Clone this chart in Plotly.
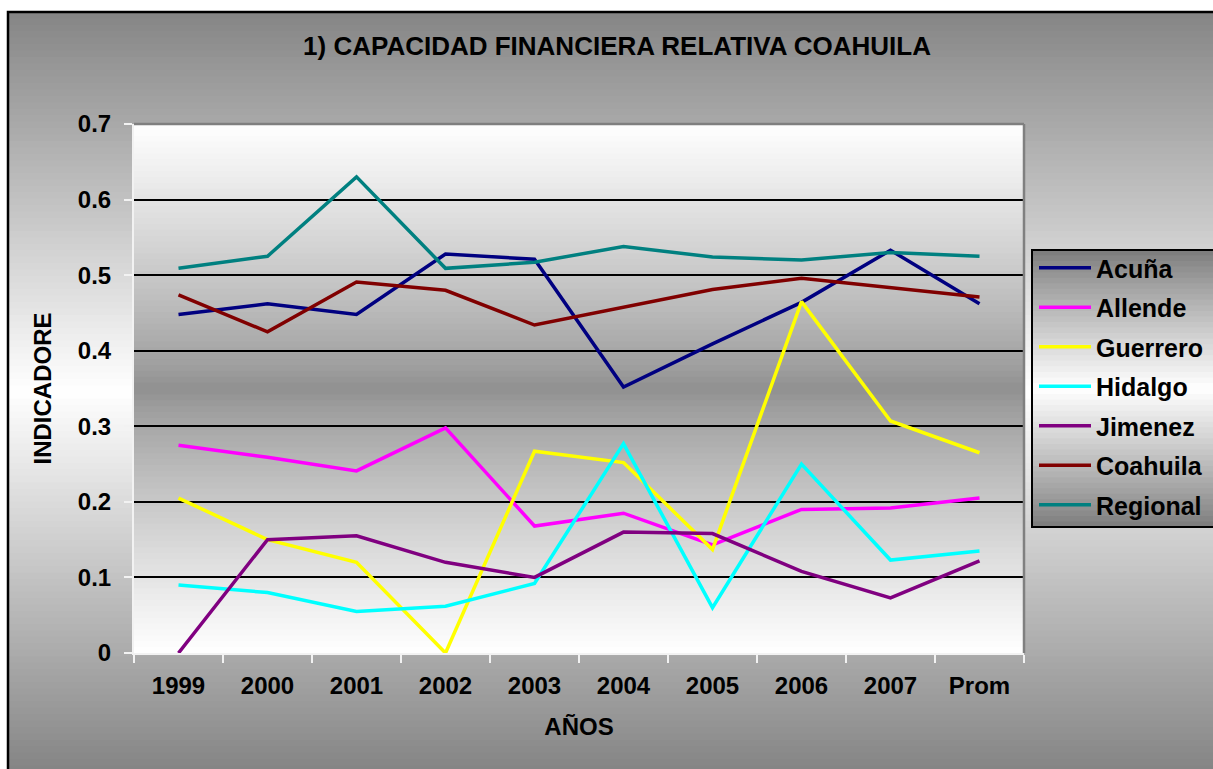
import plotly.graph_objects as go

# ---------------- data ----------------
years = ["1999", "2000", "2001", "2002", "2003", "2004", "2005", "2006", "2007", "Prom"]
acuna = [0.448, 0.462, 0.448, 0.528, 0.521, 0.352, 0.409, 0.464, 0.533, 0.462]
allende = [0.275, 0.259, 0.241, 0.298, 0.168, 0.185, 0.143, 0.190, 0.192, 0.205]
guerrero = [0.205, 0.150, 0.120, 0.000, 0.267, 0.252, 0.137, 0.465, 0.307, 0.265]
hidalgo = [0.090, 0.080, 0.055, 0.062, 0.092, 0.277, 0.060, 0.250, 0.123, 0.135]
jimenez = [0.000, 0.150, 0.155, 0.120, 0.100, 0.160, 0.158, 0.108, 0.073, 0.122]
coahuila = [0.474, 0.425, 0.491, 0.480, 0.434, 0.458, 0.481, 0.496, 0.484, 0.471]
regional = [0.509, 0.525, 0.630, 0.509, 0.517, 0.538, 0.524, 0.520, 0.530, 0.525]

series_names = ["Acuña", "Allende", "Guerrero", "Hidalgo", "Jimenez", "Coahuila", "Regional"]
series_values = [acuna, allende, guerrero, hidalgo, jimenez, coahuila, regional]
series_colors = ["#000080", "#FF00FF", "#FFFF00", "#00FFFF", "#800080", "#800000", "#008080"]

title_text = "1) CAPACIDAD FINANCIERA RELATIVA COAHUILA"
x_title = "AÑOS"
y_title = "INDICADORE"

# ---------------- layout geometry (pixels) ----------------
W, H = 1213, 769
PL, PR, PT, PB = 134, 1024, 124, 653
PW, PH = PR - PL, PB - PT
FONT = "Arial, 'Liberation Sans', sans-serif"


def fx(x):
    return (x - PL) / PW


def fy(y):
    return (PB - y) / PH


def gray(v):
    v = int(max(0, min(255, round(v))))
    return f"rgb({v},{v},{v})"


shapes = []


def gradient(x0, x1, y0, y1, func, n):
    step = (y1 - y0) / n
    for i in range(n):
        ya = y0 + i * step
        yb = ya + step + 1
        if yb > y1:
            yb = y1
        t = (ya + step / 2 - y0) / (y1 - y0)
        shapes.append(dict(type="rect", xref="paper", yref="paper",
                           x0=fx(x0), x1=fx(x1), y0=fy(ya), y1=fy(yb),
                           fillcolor=gray(func(t)), line=dict(width=0), layer="below"))


# outer chart area: dark edges, light centre
gradient(8, 1225, 12, 785, lambda t: 128 + 127 * (1 - abs(t - 0.49) / 0.51), 120)
# plot area: white edges, gray centre
gradient(PL, PR, PT, PB, lambda t: 143 + 112 * (abs(t - 0.5) / 0.5) ** 0.8, 90)
# legend box
LX0, LX1, LY0, LY1 = 1032, 1225, 250, 527
gradient(LX0, LX1, LY0, LY1, lambda t: 122 + 133 * (1 - abs(t - 0.5) / 0.5) ** 0.9, 50)

# borders
shapes.append(dict(type="rect", xref="paper", yref="paper",
                   x0=fx(8), x1=fx(1230), y0=fy(12), y1=fy(790),
                   line=dict(color="black", width=2.5), fillcolor="rgba(0,0,0,0)", layer="above"))
shapes.append(dict(type="rect", xref="paper", yref="paper",
                   x0=fx(LX0), x1=fx(1230), y0=fy(LY0), y1=fy(LY1),
                   line=dict(color="black", width=2), fillcolor="rgba(0,0,0,0)", layer="above"))
# plot-area top and right gray border
shapes.append(dict(type="line", xref="paper", yref="paper", x0=0, x1=1, y0=1, y1=1,
                   line=dict(color="#808080", width=2.5), layer="above"))
shapes.append(dict(type="line", xref="paper", yref="paper", x0=1, x1=1, y0=0, y1=1,
                   line=dict(color="#808080", width=2.5), layer="above"))

fig = go.Figure()
for name, vals, col in zip(series_names, series_values, series_colors):
    fig.add_trace(go.Scatter(x=years, y=vals, name=name, mode="lines",
                             legendgroup=name,
                             line=dict(color=col, width=3.5)))

fig.update_layout(
    width=W, height=H,
    margin=dict(l=PL, r=W - PR, t=PT, b=H - PB, autoexpand=False),
    paper_bgcolor="white",
    plot_bgcolor="rgba(0,0,0,0)",
    font=dict(family=FONT, color="black"),
    title=dict(text=f"<b>{title_text}</b>", font=dict(size=26, family=FONT, color="black"),
               x=617 / W, xref="container", xanchor="center",
               y=1 - 46 / H, yref="container", yanchor="middle"),
    shapes=shapes,
    showlegend=True,
    legend=dict(
        x=fx(1034), xanchor="left", xref="paper",
        y=fy(245), yanchor="top", yref="paper",
        bgcolor="rgba(0,0,0,0)", borderwidth=0,
        font=dict(size=25, family=FONT, color="black", weight="bold"),
        traceorder="grouped", tracegroupgap=4, itemwidth=52,
    ),
    xaxis=dict(
        type="category", range=[-0.5, 9.5], tickson="boundaries", ticks="outside",
        ticklen=8, tickwidth=2,
        tickcolor="#f2f2f2", showline=True, linecolor="#f2f2f2", linewidth=2,
        showgrid=False, zeroline=False,
        tickfont=dict(size=24, family=FONT, color="black", weight="bold"),
        ticklabelstandoff=10,
        title=dict(text=f"<b>{x_title}</b>", font=dict(size=24, family=FONT, color="black"),
                   standoff=20),
    ),
    yaxis=dict(
        range=[0, 0.7], tick0=0, dtick=0.1, ticks="outside", ticklen=8, tickwidth=2,
        tickcolor="#f2f2f2", showline=True, linecolor="#f2f2f2", linewidth=2,
        showgrid=True, gridcolor="black", gridwidth=2, zeroline=False,
        tickfont=dict(size=24, family=FONT, color="black", weight="bold"),
        ticklabelstandoff=8,
        title=dict(text=f"<b>{y_title}</b>", font=dict(size=24, family=FONT, color="black"),
                   standoff=19),
    ),
)

fig.write_html("out.html", config={"displayModeBar": False},
               post_script="document.body.style.margin='0';document.body.style.overflow='hidden';")
